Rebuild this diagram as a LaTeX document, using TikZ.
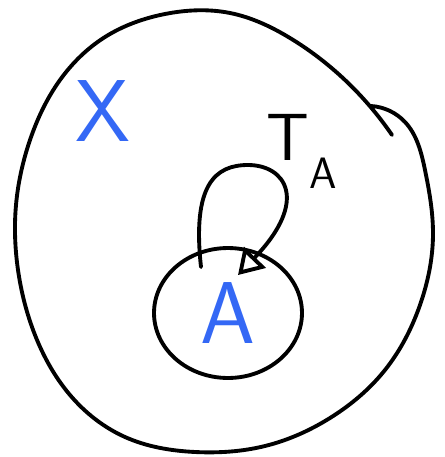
\documentclass[tikz,border=0pt]{standalone}
\usetikzlibrary{shapes.geometric,arrows.meta,hobby}
\definecolor{inkblue}{RGB}{52,104,245}
\tikzset{
  pen/.style={line width=2.2pt, line cap=round, line join=round},
  biglabel/.style={text=inkblue, font=\sffamily\fontsize{50}{50}\selectfont},
}
\begin{document}
\begin{tikzpicture}[x=0.02cm, y=-0.02cm]
    \useasboundingbox (0,0) rectangle (444,457);

    % Espacio X (contorno grande, con el pliegue arriba a la derecha)
    \draw[pen, use Hobby shortcut]
      (392,135) .. (345,80) .. (290,38) .. (230,13) .. (165,14) .. (105,37)
      .. (60,80) .. (30,140) .. (16,205) .. (18,270) .. (35,335) .. (70,395)
      .. (125,437) .. (195,452) .. (265,446) .. (330,418) .. (385,370)
      .. (420,305) .. (433,235) .. (425,170) .. (405,122) .. (371,106);
    \node[biglabel] (labelX) at (103,111) {X};

    % Subconjunto A
    \node[pen, draw=black, ellipse, minimum width=2.96cm, minimum height=2.6cm,
          biglabel] (setA) at (228,313) {A};

    % Lazo T_A de A en A
    \coordinate (loopstart) at (201,267);
    \coordinate (looptop) at (248,165);
    \coordinate (looptip) at (238,275);
    \draw[pen, -{Triangle[open, length=14pt, width=17pt, line width=2.2pt]}]
      (loopstart) .. controls (192,185) and (215,165) .. (looptop)
      .. controls (285,165) and (310,200) .. (looptip);
    \node[font=\sffamily] (labelT) at (302,151)
      {\fontsize{38}{38}\selectfont T\raisebox{-0.42em}{\fontsize{25}{25}\selectfont A}};

\end{tikzpicture}
\end{document}
